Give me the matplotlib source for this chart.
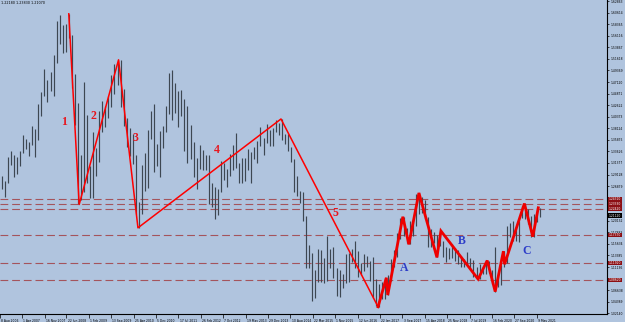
import matplotlib
matplotlib.use("Agg")
import matplotlib.pyplot as plt
import matplotlib.transforms as mtransforms
import pandas as pd

# ---------------- data ----------------
month_start = pd.date_range("2006-08-01", "2021-06-01", freq="MS")

highs = [
    1.2912, 1.2880, 1.2780, 1.3260, 1.3367,
    1.3283, 1.3246, 1.3375, 1.3682, 1.3612, 1.3536, 1.3852, 1.3795, 1.4283, 1.4525, 1.4967, 1.4759,
    1.4903, 1.5238, 1.5904, 1.6018, 1.5818, 1.5842, 1.6038, 1.5630, 1.4867, 1.4309, 1.3291, 1.4719,
    1.4065, 1.3069, 1.3738, 1.3431, 1.4155, 1.4339, 1.4255, 1.4446, 1.4844, 1.5061, 1.5144, 1.5136,
    1.4580, 1.4003, 1.3816, 1.3692, 1.3296, 1.2387, 1.3101, 1.3334, 1.3787, 1.4157, 1.4282, 1.3502,
    1.3757, 1.3862, 1.4248, 1.4880, 1.4940, 1.4699, 1.4532, 1.4548, 1.4389, 1.4248, 1.3874, 1.3549,
    1.3234, 1.3487, 1.3386, 1.3283, 1.3283, 1.2748, 1.2667, 1.2624, 1.3172, 1.3140, 1.3028, 1.3308,
    1.3480, 1.3711, 1.3132, 1.3243, 1.3243, 1.3416, 1.3346, 1.3451, 1.3569, 1.3832, 1.3621, 1.3893,
    1.3775, 1.3824, 1.3967, 1.3906, 1.3993, 1.3700, 1.3701, 1.3445, 1.3222, 1.2887, 1.2601, 1.2571,
    1.2105, 1.1534, 1.1386, 1.1052, 1.1467, 1.1436, 1.1280, 1.1714, 1.1460, 1.1495, 1.1095, 1.1059,
    1.0986, 1.1376, 1.1395, 1.1464, 1.1616, 1.1428, 1.1186, 1.1366, 1.1328, 1.1239, 1.1300, 1.0874,
    1.0775, 1.0829, 1.0906, 1.0951, 1.1268, 1.1446, 1.1777, 1.2070, 1.2092, 1.1880, 1.2000, 1.2023,
    1.2537, 1.2555, 1.2476, 1.2414, 1.2096, 1.1852, 1.1791, 1.1734, 1.1815, 1.1621, 1.1500, 1.1486,
    1.1570, 1.1489, 1.1448, 1.1324, 1.1265, 1.1412, 1.1286, 1.1250, 1.1109, 1.1179, 1.1097, 1.1240,
    1.1239, 1.1053, 1.1495, 1.0990, 1.1147, 1.1422, 1.1908, 1.1966, 1.2011, 1.1880, 1.2004, 1.2310,
    1.2349, 1.2243, 1.2113, 1.2150, 1.2266, 1.2254,
]
lows = [
    1.2716, 1.2624, 1.2484, 1.2740, 1.3097,
    1.2866, 1.2930, 1.3072, 1.3332, 1.3411, 1.3268, 1.3486, 1.3262, 1.3591, 1.4053, 1.4443, 1.4316,
    1.4530, 1.4444, 1.5090, 1.5455, 1.5285, 1.5301, 1.5567, 1.4598, 1.3881, 1.2330, 1.2422, 1.2565,
    1.2748, 1.2456, 1.2453, 1.2886, 1.3162, 1.3747, 1.3830, 1.4006, 1.4233, 1.4488, 1.4661, 1.4218,
    1.3859, 1.3444, 1.3268, 1.3114, 1.2144, 1.1876, 1.2151, 1.2588, 1.2645, 1.3598, 1.2968, 1.3072,
    1.2860, 1.3429, 1.3749, 1.4082, 1.3968, 1.4100, 1.3837, 1.4050, 1.3362, 1.3145, 1.3213, 1.2859,
    1.2624, 1.3027, 1.3003, 1.3001, 1.2331, 1.2288, 1.2042, 1.2133, 1.2564, 1.2802, 1.2661, 1.2876,
    1.2998, 1.3036, 1.2750, 1.2745, 1.2796, 1.3002, 1.2755, 1.3206, 1.3138, 1.3470, 1.3296, 1.3535,
    1.3476, 1.3477, 1.3732, 1.3672, 1.3591, 1.3503, 1.3366, 1.3152, 1.2571, 1.2500, 1.2358, 1.2002,
    1.1098, 1.1098, 1.0462, 1.0520, 1.0819, 1.0819, 1.0809, 1.0848, 1.1087, 1.0896, 1.0557, 1.0524,
    1.0711, 1.0810, 1.0822, 1.1214, 1.1097, 1.0912, 1.0952, 1.1046, 1.1123, 1.0851, 1.0518, 1.0352,
    1.0340, 1.0495, 1.0494, 1.0569, 1.0839, 1.1119, 1.1313, 1.1662, 1.1717, 1.1574, 1.1554, 1.1717,
    1.1915, 1.2154, 1.2155, 1.2055, 1.1510, 1.1508, 1.1575, 1.1301, 1.1526, 1.1302, 1.1216, 1.1269,
    1.1289, 1.1234, 1.1176, 1.1110, 1.1107, 1.1182, 1.1101, 1.0926, 1.0879, 1.0879, 1.0981, 1.0981,
    1.1002, 1.0778, 1.0636, 1.0727, 1.0767, 1.1110, 1.1187, 1.1696, 1.1612, 1.1622, 1.1603, 1.2060,
    1.2053, 1.1952, 1.1704, 1.1704, 1.1986, 1.2094,
]

# Elliott wave pivots (impulse 1-5)
wave_dates = ["2008-07-15", "2008-10-27", "2009-11-25", "2010-06-07", "2014-05-08", "2017-01-03"]
wave_prices = [1.6038, 1.2330, 1.5144, 1.1876, 1.3993, 1.0340]
wave_labels = ["1", "2", "3", "4", "5"]
wave_label_dates = ["2008-05-28", "2009-03-14", "2010-05-18", "2012-08-07", "2015-11-08"]
wave_label_prices = [1.3934, 1.4051, 1.3623, 1.3390, 1.2165]

# corrective A-B-C swings
abc_dates = ["2017-01-03", "2017-03-27", "2017-04-10", "2017-09-08", "2017-11-07", "2018-02-16",
             "2018-08-15", "2018-09-24", "2019-10-01", "2019-12-31", "2020-03-20", "2020-06-10",
             "2020-06-22", "2021-01-06", "2021-03-31", "2021-05-25"]
abc_prices = [1.0340, 1.0906, 1.0569, 1.2092, 1.1554, 1.2555,
              1.1301, 1.1815, 1.0879, 1.1240, 1.0636, 1.1422,
              1.1168, 1.2349, 1.1704, 1.2266]
abc_labels = ["A", "B", "C"]
abc_label_dates = ["2017-09-20", "2019-04-23", "2021-01-24"]
abc_label_prices = [1.1095, 1.1620, 1.1426]

# horizontal levels and current price
levels = [1.2431, 1.2333, 1.2242, 1.1737, 1.1192, 1.0862]
current_price = 1.2112

price_ticks = [1.02140, 1.04389, 1.06638, 1.08887, 1.11136, 1.13385, 1.15634, 1.17883,
               1.20132, 1.22381, 1.24630, 1.26879, 1.29128, 1.31377, 1.33626, 1.35875,
               1.38124, 1.40373, 1.42622, 1.44871, 1.47120, 1.49369, 1.51618, 1.53867,
               1.56116, 1.58365, 1.60614, 1.62863]

date_tick_labels = ["8 Aug 2006", "1 Apr 2007", "16 Nov 2007", "22 Jun 2008", "1 Feb 2009",
                    "13 Sep 2009", "25 Apr 2010", "5 Dec 2010", "17 Jul 2011", "26 Feb 2012",
                    "7 Oct 2012", "19 May 2013", "29 Dec 2013", "10 Aug 2014", "22 Mar 2015",
                    "1 Nov 2015", "12 Jun 2016", "22 Jan 2017", "3 Sep 2017", "15 Apr 2018",
                    "25 Nov 2018", "7 Jul 2019", "16 Feb 2020", "27 Sep 2020", "9 May 2021"]

header_text = "1.22180 1.23830 1.21070"

# ---------------- figure ----------------
W, H = 625, 322
BG = "#B0C4DE"
fig = plt.figure(figsize=(W / 100, H / 100), dpi=100)
fig.patch.set_facecolor(BG)
ax = fig.add_axes([0, (H - 314) / H, 607 / W, 314 / H])
ax.set_facecolor(BG)

# x limits: 0.6997 px per week; 1 Apr 2007 at px 21.7
px_per_week = 0.6997
x_left = pd.Timestamp("2007-04-01") - pd.Timedelta(weeks=21.7 / px_per_week)
x_right = x_left + pd.Timedelta(weeks=607 / px_per_week)
ax.set_xlim(x_left, x_right)
ax.set_ylim(1.02003, 1.63069)

# bars
bar_x = month_start + pd.Timedelta(days=14)
ax.vlines(bar_x, lows, highs, color="#3d4752", linewidth=0.85, zorder=2)

# levels
for lv in levels:
    ax.axhline(lv, color="#a4545c", linewidth=0.8, dashes=(7, 3.5), zorder=1)

# waves
ax.plot(pd.to_datetime(wave_dates), wave_prices, color="#ff0000", linewidth=1.1, zorder=4)
ax.plot(pd.to_datetime(abc_dates), abc_prices, color="#ee0000", linewidth=2.0, zorder=4,
        solid_joinstyle="miter")

for t, d, p in zip(wave_labels, wave_label_dates, wave_label_prices):
    ax.text(pd.Timestamp(d), p, t, color="#e8141c", fontsize=8.5, fontweight="bold",
            family="Liberation Serif", ha="center", va="center", zorder=5)
for t, d, p in zip(abc_labels, abc_label_dates, abc_label_prices):
    ax.text(pd.Timestamp(d), p, t, color="#2c3cc8", fontsize=8.5, fontweight="bold",
            family="Liberation Serif", ha="center", va="center", zorder=5)

# axes styling
for s in ["left", "top"]:
    ax.spines[s].set_visible(False)
for s in ["right", "bottom"]:
    ax.spines[s].set_color("black")
    ax.spines[s].set_linewidth(0.8)

# tick labels hidden behind a price tag are left blank (as on the reference)
tag_prices = levels + [current_price]
ylabels = []
for v in price_ticks:
    hidden = any(abs(v - t) < 0.0045 for t in tag_prices)
    ylabels.append("" if hidden else f"{v:.5f}")
ax.yaxis.tick_right()
ax.set_yticks(price_ticks)
ax.set_yticklabels(ylabels)
ax.tick_params(axis="y", direction="out", length=1.5, width=0.5, pad=1.0, labelsize=2.2,
               colors="black")

date_ticks = [x_left] + [pd.Timestamp(d) for d in date_tick_labels[1:]]
ax.set_xticks(date_ticks)
ax.set_xticklabels(date_tick_labels)
ax.tick_params(axis="x", direction="out", length=3, width=0.5, pad=0.8, labelsize=2.2,
               colors="black")
offset = mtransforms.ScaledTranslation(1.2 / 100, 0, fig.dpi_scale_trans)
for lab in ax.get_xticklabels():
    lab.set_horizontalalignment("left")
    lab.set_transform(lab.get_transform() + offset)

# price tags on the right axis
trans = mtransforms.blended_transform_factory(ax.transAxes, ax.transData)
for lv in levels:
    ax.text(1.003, lv, f"{lv:.5f}", transform=trans, fontsize=2.2, color="white",
            ha="left", va="center", clip_on=False, zorder=6,
            bbox=dict(facecolor="#8c0f14", edgecolor="none", boxstyle="square,pad=0.12"))
ax.text(1.003, current_price, f"{current_price:.5f}", transform=trans, fontsize=2.2,
        color="white", ha="left", va="center", clip_on=False, zorder=6,
        bbox=dict(facecolor="black", edgecolor="none", boxstyle="square,pad=0.12"))

ax.text(0.002, 0.997, header_text, transform=ax.transAxes, fontsize=2.4, color="black",
        ha="left", va="top")

fig.savefig("out.png", dpi=100, facecolor=fig.get_facecolor())
